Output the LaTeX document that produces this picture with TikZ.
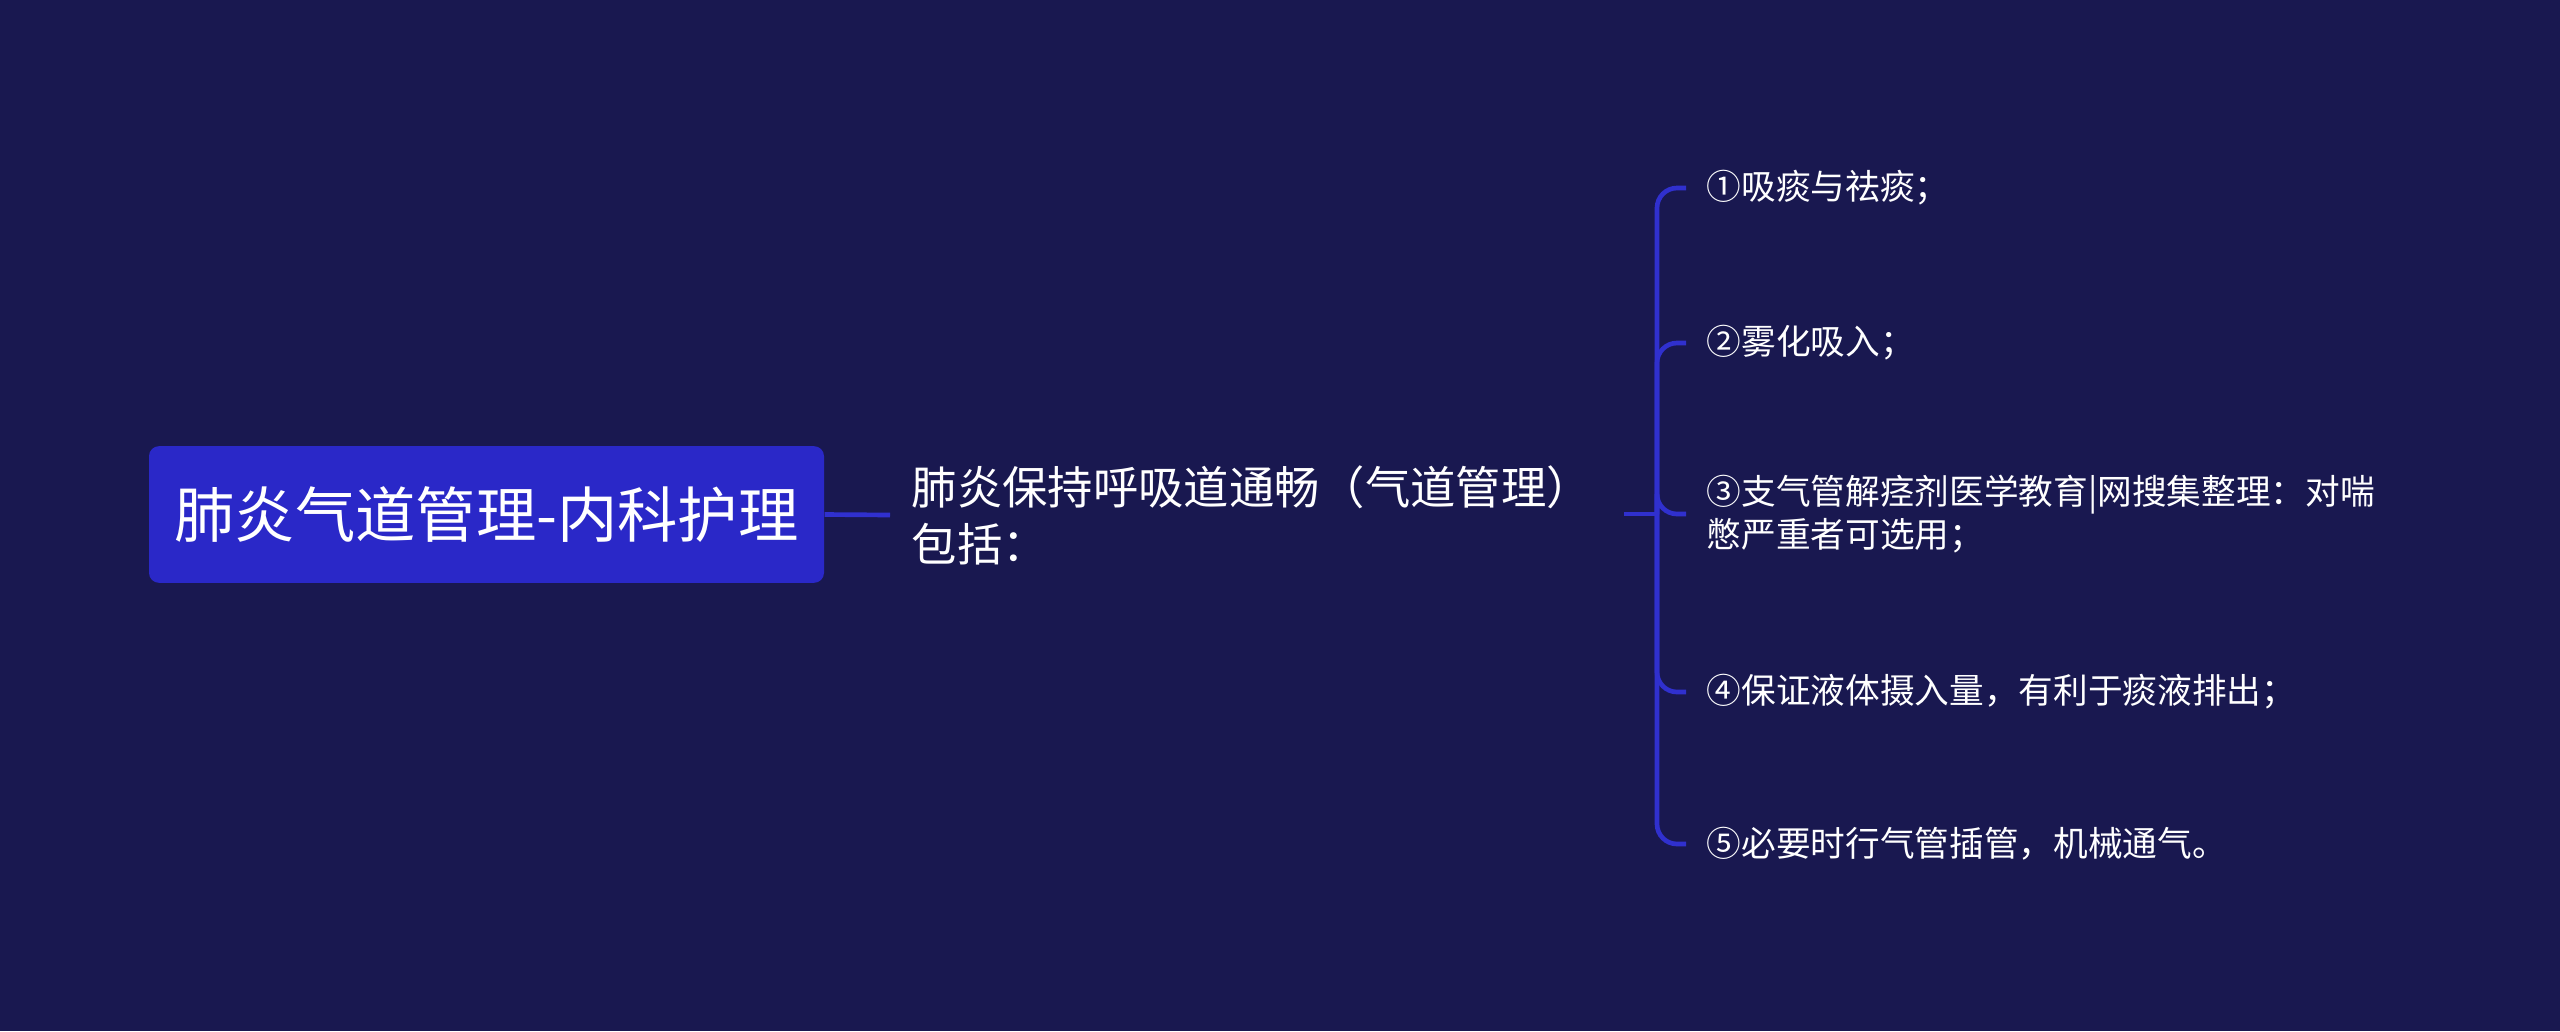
\documentclass[tikz,border=0pt]{standalone}
\usepackage{fontspec}
\setmainfont{Noto Sans CJK SC}
\usetikzlibrary{positioning}
\definecolor{bgnavy}{RGB}{25,24,80}
\definecolor{rootblue}{RGB}{42,40,200}
\definecolor{linkblue}{RGB}{48,48,206}
\tikzset{
  rootbox/.style={fill=rootblue,rounded corners=3pt,text=white,
    font=\fontsize{18.1}{21}\selectfont,minimum width=202.5pt,minimum height=41pt,inner sep=0pt},
  subtopic/.style={anchor=west,text=white,align=left,inner xsep=6.3pt,inner ysep=0pt,
    font=\fontsize{13.6}{17.1}\selectfont},
  leaf/.style={anchor=west,text=white,align=left,inner xsep=6pt,inner ysep=0pt,
    font=\fontsize{10.4}{12.9}\selectfont},
  link/.style={draw=linkblue,line width=1.4pt},
  branch/.style={link,rounded corners=6pt}
}
\begin{document}
\begin{tikzpicture}[x=0.3pt,y=-0.3pt]
\fill[bgnavy] (0,0) rectangle (2560,1031);
\useasboundingbox (0,0) rectangle (2560,1031);

\node[rootbox] (root) at (486.5,514.5) {肺炎气道管理-内科护理};
\node[subtopic] (sub) at (890,515) {肺炎保持呼吸道通畅（气道管理）\\包括：};

\coordinate (fork) at (1624,514);
\coordinate (hub) at (1657,514);

\node[leaf] (c1) at (1686,188) {①吸痰与祛痰；};
\node[leaf] (c2) at (1686,343) {②雾化吸入；};
\node[leaf] (c3) at (1686,514) {③支气管解痉剂医学教育|网搜集整理：对喘\\憋严重者可选用；};
\node[leaf] (c4) at (1686,692) {④保证液体摄入量，有利于痰液排出；};
\node[leaf] (c5) at (1686,844) {⑤必要时行气管插管，机械通气。};

\draw[link] (root.east) -- (sub.west);
\draw[link] (fork) -- (hub);
\foreach \c in {c1,c2,c3,c4,c5}
  \draw[branch] (hub) |- (\c.west);
\end{tikzpicture}
\end{document}
